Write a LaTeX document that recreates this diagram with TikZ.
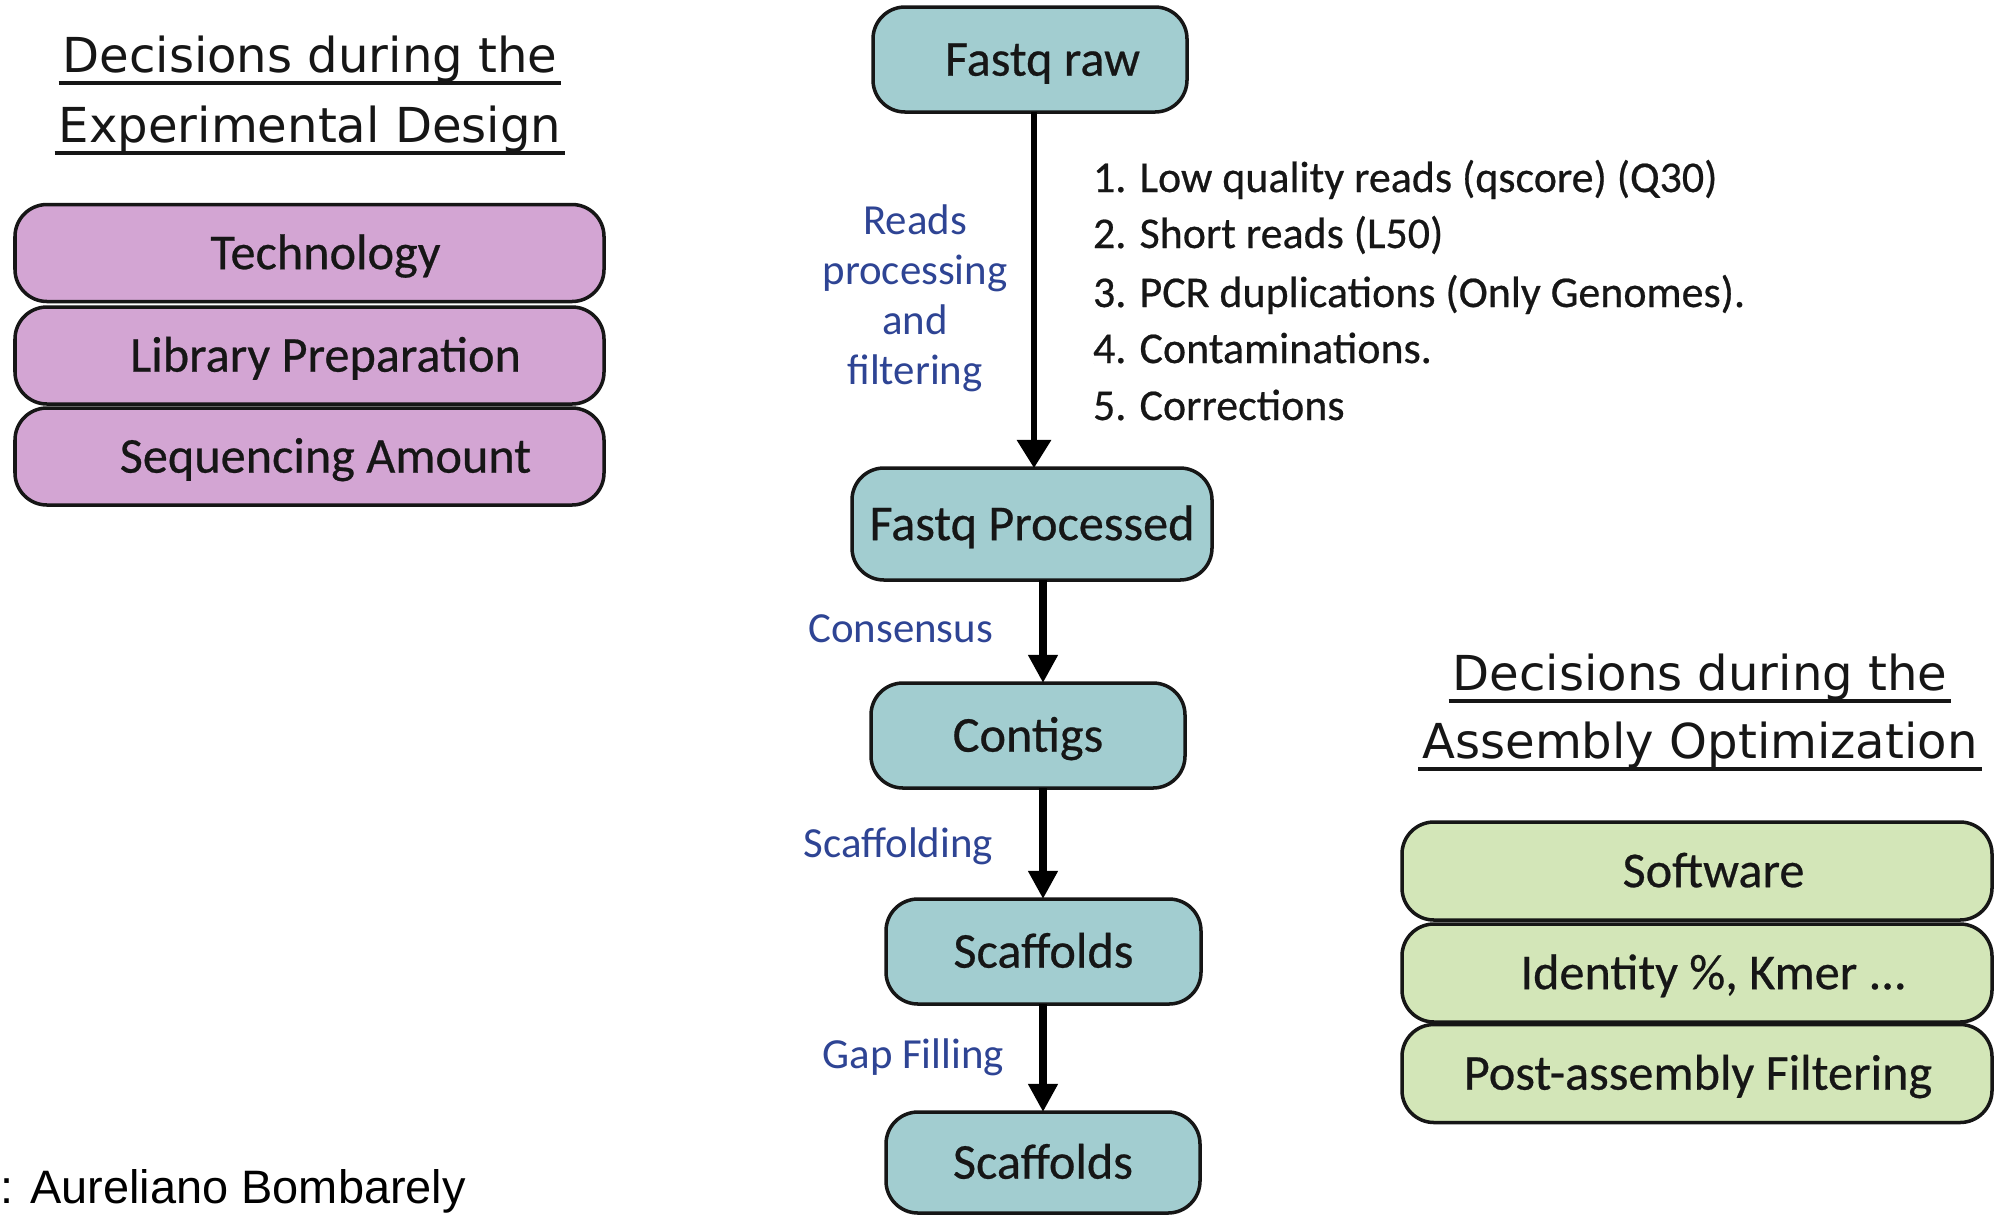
\documentclass[tikz,border=0pt]{standalone}
\usepackage{fontspec}
\setmainfont{Carlito}
\newfontfamily\boxfont{Carlito}[RawFeature={embolden=0.5}]
\newfontfamily\headfont{DejaVu Sans}
\newfontfamily\creditfont{Liberation Sans}
\usetikzlibrary{arrows.meta}

\definecolor{stagefill}{HTML}{A2CDD0}
\definecolor{designfill}{HTML}{D3A5D3}
\definecolor{optfill}{HTML}{D3E6B8}
\definecolor{steplabel}{HTML}{2E4494}
\definecolor{inkdark}{HTML}{161616}
\newcommand\pxu{0.02cm}
% shifts a box caption to the right of the box centre
\newcommand\nudge[1]{\hspace*{#1}}

\begin{document}
\begin{tikzpicture}[x=0.02cm, y=-0.02cm,
  every node/.style={inner sep=0pt, outer sep=0pt},
  roundbox/.style={draw=inkdark, line width=2pt, rounded corners=0.64cm,
    text height=18.4pt, text depth=0pt, text=inkdark,
    font=\boxfont\fontsize{28.6}{34}\selectfont},
  designbox/.style={roundbox, fill=designfill, minimum width=589*\pxu, minimum height=97*\pxu},
  optbox/.style={roundbox, fill=optfill, minimum width=590*\pxu, minimum height=98*\pxu},
  stagebox/.style={roundbox, fill=stagefill},
  headtitle/.style={font=\headfont\fontsize{27.4}{33}\selectfont, text=inkdark},
  titlerule/.style={line width=2.2pt, draw=inkdark},
  steplbl/.style={font=\fontsize{24.4}{29}\selectfont, text=steplabel},
  filtitem/.style={font=\boxfont\fontsize{25}{30}\selectfont, text=inkdark, anchor=base west},
  thinflow/.style={line width=3.1pt, draw=black, -{Triangle[width=19pt,length=16pt]}},
  flow/.style={line width=4.8pt, draw=black, -{Triangle[width=16pt,length=16pt]}}
]
\useasboundingbox (0,0) rectangle (1994,1215);
\clip (0,0) rectangle (1994,1215);
\fill[white] (0,0) rectangle (1994,1215);

% ---- experimental design block ----
\node[headtitle, anchor=base] (dt1) at (310,72) {Decisions during the};
\node[headtitle, anchor=base] (dt2) at (310,142) {Experimental Design};
\node[designbox] (tech) at (309.5,253) {\nudge{0.64cm}Technology};
\node[designbox] (lib) at (309.5,355.5) {\nudge{0.64cm}Library Preparation};
\node[designbox] (seq) at (309.5,456.5) {\nudge{0.64cm}Sequencing Amount};

% ---- assembly optimization block ----
\node[headtitle, anchor=base] (at1) at (1700,690) {Decisions during the};
\node[headtitle, anchor=base] (at2) at (1700,758) {Assembly Optimization};
\node[optbox] (soft) at (1697,871) {\nudge{0.66cm}Software};
\node[optbox] (ident) at (1697,973) {\nudge{0.66cm}Identity \%, Kmer ...};
\node[optbox] (post) at (1697,1073.5) {\nudge{0.04cm}Post-assembly Filtering};

\foreach \t in {dt1,dt2,at1,at2}
  \draw[titlerule] ([shift={(-4,11)}]\t.base west) -- ([shift={(4,11)}]\t.base east);

% ---- pipeline stages ----
\node[stagebox, minimum width=314*\pxu, minimum height=105*\pxu] (raw) at (1030,59.5) {\nudge{0.5cm}Fastq raw};
\node[stagebox, minimum width=360*\pxu, minimum height=112*\pxu] (fp) at (1032,524) {Fastq Processed};
\node[stagebox, minimum width=314*\pxu, minimum height=105*\pxu] (ct) at (1028,735.5) {Contigs};
\node[stagebox, minimum width=315*\pxu, minimum height=105*\pxu] (sc1) at (1043.5,951.5) {Scaffolds};
\node[stagebox, minimum width=314*\pxu, minimum height=101*\pxu] (sc2) at (1043,1162.5) {Scaffolds};

\coordinate (axA) at (1034,0);
\coordinate (axB) at (1043,0);
\draw[thinflow] (raw.south -| axA) -- (fp.north -| axA);
\draw[flow] (fp.south -| axB) -- (ct.north -| axB);
\draw[flow] (ct.south -| axB) -- (sc1.north -| axB);
\draw[flow] (sc1.south -| axB) -- (sc2.north -| axB);

% ---- step labels ----
\node[steplbl, anchor=base] (lr1) at (915,234) {Reads};
\node[steplbl, anchor=base] (lr2) at (915,284) {processing};
\node[steplbl, anchor=base] (lr3) at (915,334) {and};
\node[steplbl, anchor=base] (lr4) at (915,384) {filtering};
\node[steplbl, anchor=base east] (lcons) at (993,642) {Consensus};
\node[steplbl, anchor=base east] (lscaf) at (993,857) {Scaffolding};
\node[steplbl, anchor=base east] (lgap) at (1004,1068) {Gap Filling};

% ---- filtering criteria ----
\node[filtitem] (f1) at (1093,192) {1. Low quality reads (qscore) (Q30)};
\node[filtitem] (f2) at (1093,248) {2. Short reads (L50)};
\node[filtitem] (f3) at (1093,307) {3. PCR duplications (Only Genomes).};
\node[filtitem] (f4) at (1093,363) {4. Contaminations.};
\node[filtitem] (f5) at (1093,420) {5. Corrections};

% ---- credit line ----
\node[anchor=base west, font=\creditfont\fontsize{26.7}{32}\selectfont, text=black] (credit) at (0,1203) {: Aureliano Bombarely};
\end{tikzpicture}
\end{document}
